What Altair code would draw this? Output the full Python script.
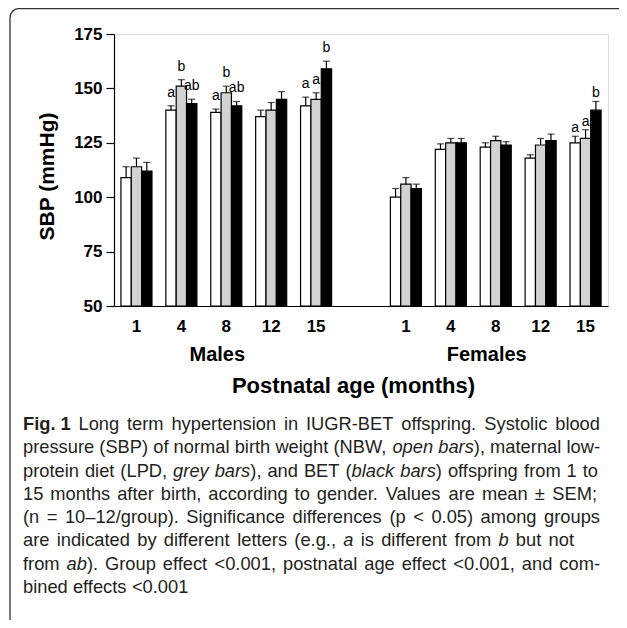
import altair as alt
import pandas as pd

# ---------------- data ----------------
ages = [1, 4, 8, 12, 15]
sexes = ["Males", "Females"]
groups = ["NBW", "LPD", "BET"]

male_nbw = [109, 140, 139, 137, 142]
male_lpd = [114, 151, 148, 140, 145]
male_bet = [112, 143, 142, 145, 159]
female_nbw = [100, 122, 123, 118, 125]
female_lpd = [106, 125, 126, 124, 127]
female_bet = [104, 125, 124, 126, 140]

male_nbw_sem = [5, 2, 1.5, 3, 4]
male_lpd_sem = [4, 3, 3, 3.5, 3]
male_bet_sem = [4, 2, 2, 3.5, 3.5]
female_nbw_sem = [4, 2.5, 2, 1.5, 3]
female_lpd_sem = [3, 2, 2, 3, 4]
female_bet_sem = [2, 2, 1.5, 3, 4]

letter_sex = ["Males"] * 9 + ["Females"] * 3
letter_age = [4, 4, 4, 8, 8, 8, 15, 15, 15, 15, 15, 15]
letter_group = ["NBW", "LPD", "BET"] * 4
letter_text = ["a", "b", "ab", "a", "b", "ab", "a", "a", "b", "a", "a", "b"]

y_ticks = [50, 75, 100, 125, 150, 175]

# caption: segments per line (text, style)  n = normal, i = italic, b = bold
caption_lines = [
    [("Fig.\u00a01", "b"), ("\u2002", "n"),
     ("Long term hypertension in IUGR-BET offspring. Systolic blood", "n")],
    [("pressure (SBP) of normal birth weight (NBW, ", "n"), ("open bars", "i"),
     ("), maternal low-", "n")],
    [("protein diet (LPD, ", "n"), ("grey bars", "i"), ("), and BET (", "n"),
     ("black bars", "i"), (") offspring from 1 to", "n")],
    [("15 months after birth, according to gender. Values are mean \u00b1 SEM;", "n")],
    [("(n = 10\u201312/group). Significance differences (p < 0.05) among groups", "n")],
    [("are indicated by different letters (e.g., ", "n"), ("a", "i"),
     (" is different from ", "n"), ("b", "i"), (" but not", "n")],
    [("from ", "n"), ("ab", "i"),
     ("). Group effect <0.001, postnatal age effect <0.001, and com-", "n")],
    [("bined effects <0.001", "n")],
]
caption_right = [600, 600, 598, 597, 600, 574, 600, None]
caption_baselines = [430, 453, 477, 500, 523, 546, 570, 593]
CAPTION_LEFT = 23

# ---------------- layout constants ----------------
PLOT_X0, PLOT_Y0 = 114, 34          # page position of plot origin
W, H = 494, 272
PAD_L, PAD_T = PLOT_X0 - 8, PLOT_Y0 - 8
PAD_R = 611 - PAD_L - W
PAD_B = 612 - PAD_T - H

# Helvetica / Liberation Sans advance widths (per 1000 em)
REG = {' ': 278, '\u00a0': 278, '(': 333, ')': 333, ',': 278, '-': 333, '.': 278, '/': 278,
       ';': 278, ':': 278, '<': 584, '=': 584, '\u00b1': 584, '\u2013': 556}
for ch in "0123456789":
    REG[ch] = 556
REG.update(dict(zip("ABCDEFGHIJKLMNOPQRSTUVWXYZ",
                    [667, 667, 722, 722, 667, 611, 778, 722, 278, 500, 667, 556, 833, 722,
                     778, 667, 778, 722, 667, 611, 722, 667, 944, 667, 667, 611])))
REG.update(dict(zip("abcdefghijklmnopqrstuvwxyz",
                    [556, 556, 500, 556, 556, 278, 556, 556, 222, 222, 500, 222, 833, 556,
                     556, 556, 556, 333, 500, 278, 556, 500, 722, 500, 500, 500])))
BOLD = {'F': 611, 'i': 278, 'g': 611, '.': 278, '\u00a0': 278, '1': 556}


def char_w(ch, style):
    if style == "b":
        return BOLD.get(ch, 600)
    return REG.get(ch, 556)


def line_items(line):
    items = []
    for text, style in line:
        for ch in text:
            if ch == " ":
                items.append(["sp", None, None, REG[" "], True])
            elif ch == "\u2002":
                items.append(["sp", None, None, 420, False])
            else:
                w = char_w(ch, style)
                if items and items[-1][0] == "run" and items[-1][2] == style:
                    items[-1][1] += ch
                    items[-1][3] += w
                else:
                    items.append(["run", ch, style, w, None])
    return items


all_items = [line_items(l) for l in caption_lines]
ratios = [(r - CAPTION_LEFT) * 1000 / sum(it[3] for it in items)
          for items, r in zip(all_items, caption_right) if r is not None]
CAP_SIZE = min(ratios)

cap_rows = []
for items, right, base_y in zip(all_items, caption_right, caption_baselines):
    natural = sum(it[3] for it in items) * CAP_SIZE / 1000
    n_st = sum(1 for it in items if it[0] == "sp" and it[4])
    extra = (right - CAPTION_LEFT - natural) / n_st if (right is not None and n_st) else 0
    x = CAPTION_LEFT
    for kind, txt, style, w, stretch in items:
        w_px = w * CAP_SIZE / 1000
        if kind == "run":
            cap_rows.append({"text": txt, "style": style,
                             "px": x - PLOT_X0, "py": base_y - PLOT_Y0})
            x += w_px
        else:
            x += w_px + (extra if stretch else 0)
cap_all = pd.DataFrame(cap_rows)


def slot(sex, age):
    return ("M" if sex == "Males" else "F") + str(age)


slots = [slot("Males", a) for a in ages] + ["G"] + [slot("Females", a) for a in ages]

rows = []
series = {
    ("Males", "NBW"): (male_nbw, male_nbw_sem),
    ("Males", "LPD"): (male_lpd, male_lpd_sem),
    ("Males", "BET"): (male_bet, male_bet_sem),
    ("Females", "NBW"): (female_nbw, female_nbw_sem),
    ("Females", "LPD"): (female_lpd, female_lpd_sem),
    ("Females", "BET"): (female_bet, female_bet_sem),
}
for (sex, grp), (vals, sems) in series.items():
    for a, v, s in zip(ages, vals, sems):
        rows.append({"slot": slot(sex, a), "group": grp, "sex": sex,
                     "mean": v, "hi": v + s})
df = pd.DataFrame(rows)

lrows = []
for sx, a, g, t in zip(letter_sex, letter_age, letter_group, letter_text):
    r = df[(df.slot == slot(sx, a)) & (df.group == g)].iloc[0]
    lrows.append({"slot": slot(sx, a), "group": g, "sex": sx, "hi": r.hi, "letter": t})
ldf = pd.DataFrame(lrows)

sex_df = pd.DataFrame({"slot": [slot("Males", 8), slot("Females", 8)], "label": sexes})

FONT = "Liberation Sans"
CAP_FONT = "Liberation Sans"
CAP_COLOR = "#231f20"

x_enc = alt.X("slot:N", scale=alt.Scale(domain=slots, paddingInner=0, paddingOuter=0),
              sort=slots,
              axis=alt.Axis(title="Postnatal age (months)", labelExpr="slice(datum.label, 1)",
                            labelAngle=0, ticks=False, tickSize=0, labelPadding=25,
                            labelBaseline="alphabetic", labelFont=FONT, labelFontSize=17,
                            labelFontWeight="bold", labelColor="black",
                            domainColor="black", domainWidth=1.2,
                            titleFont=FONT, titleFontSize=22, titleFontWeight="bold",
                            titleColor="black", titleX=239, titleY=358 - PLOT_Y0 - 272 + 34,
                            titleBaseline="alphabetic"))
xo_enc = alt.XOffset("group:N", sort=groups,
                     scale=alt.Scale(domain=groups, paddingInner=0, paddingOuter=0.67))
y_scale = alt.Scale(domain=[50, 175], nice=False, zero=False)

base = alt.Chart(df)

bars = base.mark_bar(stroke="black", strokeWidth=1.2).encode(
    x=x_enc,
    xOffset=xo_enc,
    y=alt.Y("mean:Q", scale=y_scale,
            axis=alt.Axis(title="SBP (mmHg)", values=y_ticks, grid=False,
                          tickSize=8, tickColor="black", tickWidth=1.2,
                          domainColor="black", domainWidth=1.2, labelPadding=4,
                          labelFont=FONT, labelFontSize=17, labelFontWeight="bold",
                          labelColor="black", titleFont=FONT, titleFontSize=21,
                          titleFontWeight="bold", titleColor="black",
                          titleX=47 - PLOT_X0, titleY=176 - PLOT_Y0,
                          titleBaseline="middle")),
    y2=alt.datum(50),
    fill=alt.Fill("group:N", scale=alt.Scale(domain=groups, range=["white", "#d2d2d2", "black"]),
                  legend=None),
)

err = base.mark_rule(color="black", strokeWidth=1.2).encode(
    x=alt.X("slot:N", sort=slots), xOffset=alt.XOffset("group:N", sort=groups),
    y=alt.Y("mean:Q", scale=y_scale), y2="hi:Q")
caps = base.mark_tick(color="black", orient="horizontal", size=7, thickness=1.2).encode(
    x=alt.X("slot:N", sort=slots), xOffset=alt.XOffset("group:N", sort=groups),
    y=alt.Y("hi:Q", scale=y_scale))

letters_m = alt.Chart(ldf).transform_filter("datum.sex == 'Males'").mark_text(
    font=FONT, fontSize=14, color="black", baseline="alphabetic", dy=-9).encode(
    x=alt.X("slot:N", sort=slots), xOffset=alt.XOffset("group:N", sort=groups),
    y=alt.Y("hi:Q", scale=y_scale), text="letter:N")
letters_f = alt.Chart(ldf).transform_filter("datum.sex == 'Females'").mark_text(
    font=FONT, fontSize=14, color="black", baseline="alphabetic", dy=-4).encode(
    x=alt.X("slot:N", sort=slots), xOffset=alt.XOffset("group:N", sort=groups),
    y=alt.Y("hi:Q", scale=y_scale), text="letter:N")

sex_labels = alt.Chart(sex_df).mark_text(
    font=FONT, fontSize=20, fontWeight="bold", color="black", baseline="alphabetic",
    dx=-9).encode(x=alt.X("slot:N", sort=slots), y=alt.value(361 - PLOT_Y0), text="label:N")


def cap_layer(style, **kw):
    return alt.Chart(cap_all).transform_filter(f"datum.style == '{style}'").mark_text(
        font=CAP_FONT, fontSize=CAP_SIZE, color=CAP_COLOR, align="left",
        baseline="alphabetic", **kw).encode(
        x=alt.X("px:Q", scale=None), y=alt.Y("py:Q", scale=None), text="text:N")


cap_reg = cap_layer("n")
cap_it = cap_layer("i", fontStyle="italic")
cap_bold = cap_layer("b", fontWeight="bold")

frame = alt.Chart(pd.DataFrame({"k": [0]})).mark_rect(
    filled=False, stroke="#333333", strokeWidth=1.3, cornerRadius=9).encode(
    x=alt.value(10 - PLOT_X0), x2=alt.value(660 - PLOT_X0),
    y=alt.value(8.6 - PLOT_Y0), y2=alt.value(629 - PLOT_Y0))

chart = alt.layer(bars, err, caps, letters_m, letters_f, sex_labels,
                  cap_reg, cap_it, cap_bold, frame).properties(
    width=W, height=H,
    autosize=alt.AutoSizeParams(type="none"),
    padding={"left": PAD_L, "top": PAD_T, "right": PAD_R, "bottom": PAD_B},
).configure_view(stroke=None).configure(background="white")

chart.save("out.html", embed_options={"renderer": "svg", "actions": False})
